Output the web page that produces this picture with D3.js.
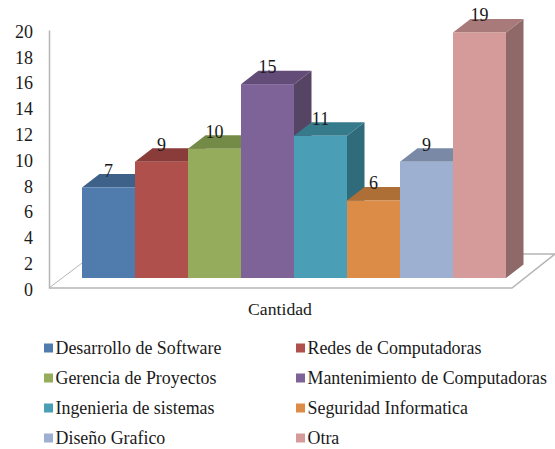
<!DOCTYPE html>
<html>
<head>
<meta charset="utf-8">
<script src="https://cdn.jsdelivr.net/npm/d3@7"></script>
<style>
  html, body { margin: 0; padding: 0; background: #fff; }
  svg { display: block; }
  text { font-family: "Liberation Serif", serif; fill: #1a1a1a; }
</style>
</head>
<body>
<div id="chart"></div>
<script>
// chart data
var categories = ["Desarrollo de Software", "Redes de Computadoras", "Gerencia de Proyectos",
  "Mantenimiento de Computadoras", "Ingenieria de sistemas", "Seguridad Informatica",
  "Diseño Grafico", "Otra"];
var values = [7, 9, 10, 15, 11, 6, 9, 19];
var yTicks = [0, 2, 4, 6, 8, 10, 12, 14, 16, 18, 20];
var axisTitle = "Cantidad";

var frontColors = ["#4f7cad", "#b0504c", "#95ac5c", "#7e6398", "#4a9fb6", "#dd8c47", "#9db0d2", "#d59b9a"];
var topColors = ["#3e618a", "#8a3c3b", "#748a47", "#634d78", "#367b8c", "#ae6f37", "#7a8aa6", "#a87a79"];
var sideColors = ["#35547a", "#763332", "#647a3d", "#564465", "#2f6b7a", "#96602f", "#6a7890", "#8f6868"];

const chartWidth = 555;
const chartHeight = 449;

// fake 3d: how far the back face sits from the front face
const depthX = 17.5;
const depthY = -13.5;
const gridColor = "#b5b5b5";

var svg = d3.select("#chart").append("svg")
  .attr("width", chartWidth)
  .attr("height", chartHeight);

var xScale = d3.scaleBand().domain(categories).range([82, 506]);
var yScale = d3.scaleLinear().domain([0, 20]).range([278, 19.5]);
// the axis stands on the front edge of the floor, a bit lower than the bars
var axisScale = d3.scaleLinear().domain([0, 20]).range([288, 30]);

// floor
var floorBack = axisScale(0) - 34;
svg.append("path")
  .attr("d", "M49," + axisScale(0) + "L512," + axisScale(0) + "L555," + floorBack + "L523," + floorBack)
  .attr("fill", "none")
  .attr("stroke", gridColor)
  .attr("stroke-width", 1.5);
svg.append("line")
  .attr("x1", 49).attr("y1", axisScale(0))
  .attr("x2", 82).attr("y2", axisScale(0) - 25)
  .attr("stroke", gridColor)
  .attr("stroke-width", 1);

var yAxis = d3.axisLeft().scale(axisScale).tickValues(yTicks).tickSize(0).tickPadding(16);
var axisG = svg.append("g")
  .attr("transform", "translate(49,0)")
  .call(yAxis);
axisG.select(".domain").attr("stroke", gridColor).attr("stroke-width", 1.5);
axisG.selectAll("text")
  .attr("dy", "0.4em")
  .style("font-family", '"Liberation Serif", serif')
  .style("font-size", "18px")
  .attr("fill", "#1a1a1a");

// bars, left to right so each one covers the side of the previous one
var bars = svg.selectAll("g.bar")
  .data(categories)
  .enter()
  .append("g")
  .attr("class", "bar");

bars.append("path")
  .attr("fill", function(d, i) { return sideColors[i]; })
  .attr("d", function(d, i) {
    var x1 = xScale(d) + xScale.bandwidth(), y0 = yScale(0), y1 = yScale(values[i]);
    return "M" + x1 + "," + y0 + "L" + (x1 + depthX) + "," + (y0 + depthY) +
      "L" + (x1 + depthX) + "," + (y1 + depthY) + "L" + x1 + "," + y1 + "Z";
  });

bars.append("path")
  .attr("fill", function(d, i) { return topColors[i]; })
  .attr("d", function(d, i) {
    var x0 = xScale(d), x1 = x0 + xScale.bandwidth(), y1 = yScale(values[i]);
    return "M" + x0 + "," + y1 + "L" + x1 + "," + y1 + "L" + (x1 + depthX) + "," + (y1 + depthY) +
      "L" + (x0 + depthX) + "," + (y1 + depthY) + "Z";
  });

bars.append("rect")
  .attr("x", function(d) { return xScale(d); })
  .attr("y", function(d, i) { return yScale(values[i]); })
  .attr("width", xScale.bandwidth())
  .attr("height", function(d, i) { return yScale(0) - yScale(values[i]); })
  .attr("fill", function(d, i) { return frontColors[i]; });

// value labels go last so they sit over every bar
svg.selectAll("text.value")
  .data(categories)
  .enter()
  .append("text")
  .attr("class", "value")
  .attr("x", function(d) { return xScale(d) + xScale.bandwidth() / 2; })
  .attr("y", function(d, i) { return yScale(values[i]) - 11; })
  .attr("text-anchor", "middle")
  .style("font-size", "18px")
  .text(function(d, i) { return values[i]; });

svg.append("text")
  .attr("x", 280)
  .attr("y", 315)
  .attr("text-anchor", "middle")
  .style("font-size", "17.7px")
  .text(axisTitle);

// legend, two columns
var legendCols = [44, 296];
var legendRows = [348, 378, 408, 438];

var legend = svg.selectAll("g.legend")
  .data(categories)
  .enter()
  .append("g")
  .attr("class", "legend")
  .attr("transform", function(d, i) {
    return "translate(" + legendCols[i % 2] + "," + legendRows[Math.floor(i / 2)] + ")";
  });

legend.append("rect")
  .attr("x", 0)
  .attr("y", -4.5)
  .attr("width", 9)
  .attr("height", 9)
  .attr("fill", function(d, i) { return frontColors[i]; });

legend.append("text")
  .attr("x", 11.5)
  .attr("y", 6)
  .style("font-size", "17.9px")
  .text(function(d) { return d; });
</script>
</body>
</html>
